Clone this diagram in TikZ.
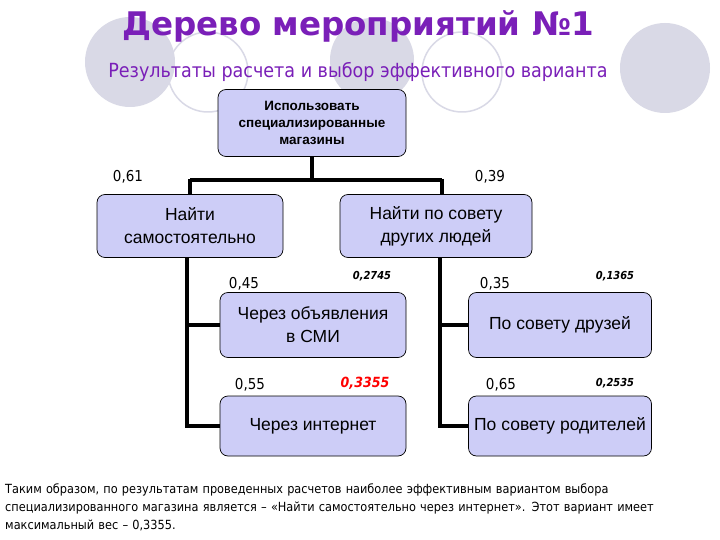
\documentclass[tikz,border=0pt]{standalone}
\usepackage{fontspec}
\setmainfont{Liberation Sans}
\newfontfamily\comic{DejaVu Sans}
\newfontfamily\comicc{DejaVu Sans Condensed}
\definecolor{boxfill}{HTML}{CDCDF7}
\definecolor{circ}{HTML}{D9D9E6}
\definecolor{titlec}{HTML}{7A1FB8}
\begin{document}
\begin{tikzpicture}[x=1pt,y=-1pt,
  bx/.style={draw=black,fill=boxfill,rounded corners=8pt,line width=0.7pt,align=center,inner sep=0pt},
  bt/.style={font=\fontsize{17.5}{23}\selectfont},
  ln/.style={line width=3.5pt},
  pr/.style={font=\comicc\fontsize{15}{17}\selectfont},
  pw/.style={font=\comicc\bfseries\itshape\fontsize{11}{13}\selectfont}]
\useasboundingbox (0,0) rectangle (720,540);
\fill[white] (0,0) rectangle (720,540);
\fill[circ] (130,62) circle (45);
\draw[circ,line width=1.5pt] (208,72) circle (40);
\fill[circ] (372,60) circle (42);
\draw[circ,line width=1.5pt] (462,72) circle (40);
\fill[circ] (665,68) circle (45);
\node[text=titlec,font=\comic\bfseries\fontsize{32.5}{38}\selectfont] (title) at (358,26) {Дерево мероприятий №1};
\node[text=titlec,font=\comicc\fontsize{19.5}{22}\selectfont] (sub) at (358,72) {Результаты расчета и выбор эффективного варианта};
\node[bx,minimum width=188,minimum height=67,font=\bfseries\fontsize{13.5}{17}\selectfont] (root) at (312,123) {Использовать\\специализированные\\магазины};
\node[bx,bt,minimum width=186,minimum height=63] (a) at (190,226) {Найти\\самостоятельно};
\node[bx,bt,minimum width=192,minimum height=63] (b) at (436,226) {Найти по совету\\других людей};
\node[bx,bt,minimum width=186,minimum height=65] (a1) at (313,325) {Через объявления\\в СМИ};
\node[bx,bt,minimum width=186,minimum height=60] (a2) at (313,426) {Через интернет};
\node[bx,bt,minimum width=183,minimum height=65] (b1) at (560,325) {По совету друзей};
\node[bx,bt,minimum width=183,minimum height=60] (b2) at (560,426) {По совету родителей};
\coordinate (j) at (312,180);
\draw[ln] (root.south) -- (j);
\draw[ln] (190,180) -- (442,180);
\draw[ln] (190,179) -- (190,195);
\draw[ln] (442,179) -- (442,195);
\draw[ln] (187,258) |- (a1.west);
\draw[ln] (187,300) |- (a2.west);
\draw[ln] (440,258) |- (b1.west);
\draw[ln] (440,300) |- (b2.west);
\node[pr] (l1) at (128,177) {0,61};
\node[pr] (l2) at (490,177) {0,39};
\node[pr] (l3) at (244,284) {0,45};
\node[pr] (l4) at (495,284) {0,35};
\node[pr] (l5) at (250,385) {0,55};
\node[pr] (l6) at (501,385) {0,65};
\node[pw] (w1) at (372,276) {0,2745};
\node[pw] (w2) at (615,276) {0,1365};
\node[pw,text=red,font=\comicc\bfseries\itshape\fontsize{14}{16}\selectfont] (w3) at (365,383) {0,3355};
\node[pw] (w4) at (615,383) {0,2535};
\node[anchor=north west,align=left,text width=705,inner sep=0pt,font=\comicc\fontsize{12.6}{18}\selectfont] (txt) at (5,484) {Таким образом, по результатам проведенных расчетов наиболее эффективным вариантом выбора специализированного магазина является – «Найти самостоятельно через интернет». Этот вариант имеет максимальный вес – 0,3355.};
\end{tikzpicture}
\end{document}
